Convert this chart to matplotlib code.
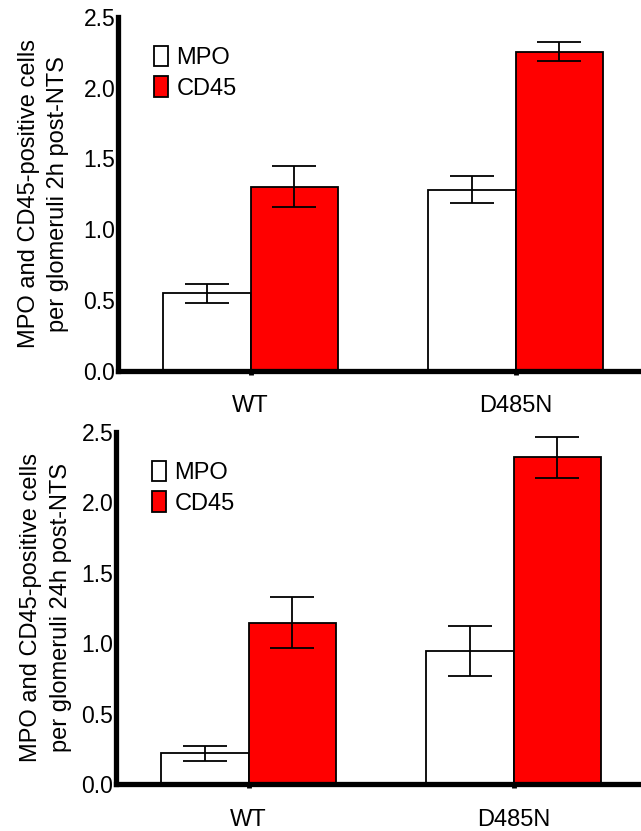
import matplotlib
matplotlib.use('Agg')
import matplotlib.pyplot as plt
import numpy as np

plt.rcParams['font.family'] = ['Liberation Sans', 'DejaVu Sans']

groups = ['WT', 'D485N']
series = ['MPO', 'CD45']

# 2h post-NTS
mpo_2h = [0.545, 1.28]
mpo_2h_err = [0.07, 0.095]
cd45_2h = [1.30, 2.255]
cd45_2h_err = [0.145, 0.065]

# 24h post-NTS
mpo_24h = [0.218, 0.945]
mpo_24h_err = [0.052, 0.178]
cd45_24h = [1.147, 2.321]
cd45_24h_err = [0.18, 0.145]

ylabels = ['MPO and CD45-positive cells\nper glomeruli 2h post-NTS',
           'MPO and CD45-positive cells\nper glomeruli 24h post-NTS']

W, H = 641, 831
fig = plt.figure(figsize=(W / 100, H / 100), dpi=100)

# axes boxes in pixels: left, y of zero line, y of 2.5 line
boxes = [(118, 370.5, 17), (116, 784, 432)]
panels = [(mpo_2h, mpo_2h_err, cd45_2h, cd45_2h_err),
          (mpo_24h, mpo_24h_err, cd45_24h, cd45_24h_err)]
label_pads = [10, 7]

fs = 17
bw = 0.332
x = np.arange(len(groups))

for (left, y0, y1), (m, me, c, ce), lab, lp in zip(boxes, panels, ylabels, label_pads):
    ax = fig.add_axes([left / W, 1 - y0 / H, 530 / W, (y0 - y1) / H])
    ax.bar(x - bw / 2, m, bw, color='white', edgecolor='black', linewidth=1.3,
           label=series[0], zorder=2)
    ax.bar(x + bw / 2, c, bw, color='#ff0000', edgecolor='black', linewidth=1.3,
           label=series[1], zorder=2)
    ax.errorbar(x - bw / 2, m, yerr=me, fmt='none', ecolor='black',
                elinewidth=1.3, capsize=16, capthick=1.3, zorder=3)
    ax.errorbar(x + bw / 2, c, yerr=ce, fmt='none', ecolor='black',
                elinewidth=1.3, capsize=16, capthick=1.3, zorder=3)

    ax.set_xlim(-0.5, 1.5)
    ax.set_ylim(0, 2.5)
    ax.set_yticks([0, 0.5, 1.0, 1.5, 2.0, 2.5])
    ax.set_yticklabels(['0.0', '0.5', '1.0', '1.5', '2.0', '2.5'])
    ax.set_xticks(x)
    ax.set_xticklabels(groups)
    for s in ['top', 'right']:
        ax.spines[s].set_visible(False)
    for s in ['left', 'bottom']:
        ax.spines[s].set_linewidth(3.8)
    ax.tick_params(axis='y', labelsize=16.5, length=1.5, width=3.5, pad=0.5)
    ax.tick_params(axis='x', labelsize=fs, length=3, width=3.5, pad=15)
    ax.set_ylabel(lab, fontsize=fs, labelpad=lp, linespacing=1.45)

    ax.legend(loc='upper left', bbox_to_anchor=(0.068, 0.918), frameon=False,
              fontsize=fs, handlelength=0.6, handleheight=0.95,
              handletextpad=0.35, labelspacing=0.3, borderpad=0,
              borderaxespad=0)

fig.savefig('out.png', dpi=100)
